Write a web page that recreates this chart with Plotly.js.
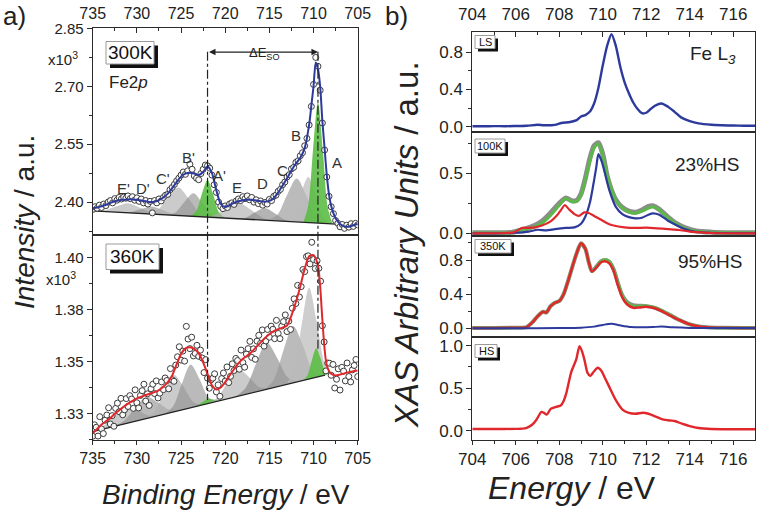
<!DOCTYPE html>
<html>
<head>
<meta charset="utf-8">
<script src="https://cdn.plot.ly/plotly-3.0.1.min.js"></script>
<style>
  html, body { margin: 0; padding: 0; background: #fff; }
  #chart { width: 760px; height: 510px; }
</style>
</head>
<body>
<div id="chart"></div>
<script>
// ---------------- (a) Fe 2p XPS, 300 K ----------------
const xps300E = [735,734.75,734.5,734.25,734,733.75,733.5,733.25,733,732.75,732.5,732.25,732,731.75,731.5,731.25,731,730.75,730.5,730.25,730,729.75,729.5,729.25,729,728.75,728.5,728.25,728,727.75,727.5,727.25,727,726.75,726.5,726.25,726,725.75,725.5,725.25,725,724.75,724.5,724.25,724,723.75,723.5,723.25,723,722.75,722.5,722.25,722,721.75,721.5,721.25,721,720.75,720.5,720.25,720,719.75,719.5,719.25,719,718.75,718.5,718.25,718,717.75,717.5,717.25,717,716.75,716.5,716.25,716,715.75,715.5,715.25,715,714.75,714.5,714.25,714,713.75,713.5,713.25,713,712.75,712.5,712.25,712,711.75,711.5,711.25,711,710.75,710.5,710.25,710,709.75,709.5,709.25,709,708.75,708.5,708.25,708,707.75,707.5,707.25,707,706.75,706.5,706.25,706,705.75,705.5,705.25,705];
const xps300Counts = [2.381,2.388,2.384,2.392,2.386,2.395,2.391,2.400,2.404,2.398,2.409,2.405,2.412,2.408,2.413,2.410,2.416,2.409,2.414,2.405,2.411,2.402,2.408,2.398,2.404,2.395,2.402,2.372,2.404,2.398,2.408,2.403,2.412,2.418,2.420,2.432,2.438,2.446,2.455,2.462,2.470,2.478,2.472,2.481,2.498,2.485,2.468,2.462,2.458,2.474,2.485,2.496,2.494,2.488,2.470,2.445,2.425,2.400,2.389,2.383,2.390,2.386,2.395,2.398,2.394,2.403,2.408,2.404,2.414,2.409,2.416,2.406,2.412,2.400,2.406,2.396,2.403,2.392,2.399,2.395,2.407,2.404,2.415,2.418,2.428,2.433,2.445,2.452,2.465,2.471,2.486,2.490,2.503,2.507,2.520,2.528,2.546,2.565,2.600,2.648,2.705,2.775,2.752,2.690,2.605,2.535,2.465,2.415,2.388,2.370,2.352,2.345,2.336,2.342,2.332,2.340,2.335,2.344,2.337,2.345,2.341];
const xps300FitE = [735,734.5,734,733.5,733,732.5,732,731.5,731,730.5,730,729.5,729,728.5,728,727.5,727,726.5,726,725.5,725,724.5,724,723.5,723,722.5,722,721.5,721,720.5,720,719.5,719,718.5,718,717.5,717,716.5,716,715.5,715,714.5,714,713.5,713,712.5,712,711.5,711,710.5,710.25,710,709.75,709.5,709.25,709,708.75,708.5,708.25,708,707.5,707,706.5,706,705.5,705];
const xps300Fit = [2.384,2.386,2.389,2.393,2.398,2.402,2.405,2.406,2.407,2.407,2.406,2.404,2.402,2.400,2.401,2.405,2.412,2.422,2.436,2.452,2.466,2.474,2.476,2.474,2.470,2.478,2.492,2.475,2.430,2.395,2.387,2.392,2.398,2.402,2.405,2.406,2.406,2.404,2.402,2.401,2.403,2.410,2.425,2.443,2.462,2.482,2.500,2.515,2.540,2.600,2.650,2.700,2.762,2.745,2.700,2.610,2.540,2.470,2.420,2.390,2.358,2.343,2.337,2.336,2.340,2.344];
const xps300BgE = [735, 707.4];
const xps300Bg = [2.377, 2.343];
// fitted components: E', D', C', B', A'(2p1/2 main), E, D, C, B, A(2p3/2 main)
const xps300PeakE = [
  [734.9,733.6,732.3,731.0,729.7,728.4,727.1],
  [731.9,730.7,729.5,728.3,727.1,725.9,724.7],
  [728.9,727.7,726.5,725.3,724.1,722.9,721.7],
  [726.6,725.6,724.6,723.6,722.6,721.6,720.6],
  [724.0,723.3,722.65,722.0,721.35,720.7,720.0],
  [722.7,721.3,719.9,718.5,717.1,715.7,714.3],
  [718.8,717.7,716.6,715.5,714.4,713.3,712.2],
  [715.2,714.1,713.0,711.9,710.8,709.7,708.6],
  [713.15,712.3,711.45,710.6,709.75,708.9,708.05],
  [711.15,710.6,710.05,709.5,708.95,708.4,707.85]
];
const xps300PeakI = [
  [2.377,2.3788,2.389,2.397,2.3858,2.3724,2.3673],
  [2.3732,2.3746,2.3824,2.3888,2.3795,2.3686,2.3643],
  [2.3695,2.3782,2.411,2.438,2.4081,2.3723,2.3606],
  [2.3667,2.3739,2.4008,2.423,2.3983,2.3689,2.3593],
  [2.3635,2.376,2.4204,2.457,2.4188,2.3728,2.3586],
  [2.3619,2.3658,2.3835,2.398,2.380,2.3589,2.3515],
  [2.3565,2.3596,2.3739,2.385,2.3712,2.3548,2.349],
  [2.3526,2.367,2.4186,2.461,2.4159,2.3616,2.3445],
  [2.3502,2.3656,2.420,2.465,2.418,2.3614,2.3439],
  [2.3478,2.3909,2.5375,2.659,2.5362,2.3882,2.3437]
];
const xps300PeakNames = ["E'","D'","C'","B'","A'","E","D","C","B","A"];

// ---------------- (a) Fe 2p XPS, 360 K ----------------
const xps360E = [735,734.8,734.6,734.4,734.2,734,733.8,733.6,733.4,733.2,733,732.8,732.6,732.4,732.2,732,731.8,731.6,731.4,731.2,731,730.8,730.6,730.4,730.2,730,729.8,729.6,729.4,729.2,729,728.8,728.6,728.4,728.2,728,727.8,727.6,727.4,727.2,727,726.8,726.6,726.4,726.2,726,725.8,725.6,725.4,725.2,725,724.8,724.6,724.4,724.2,724,723.8,723.6,723.4,723.2,723,722.8,722.6,722.4,722.2,722,721.8,721.6,721.4,721.2,721,720.8,720.6,720.4,720.2,720,719.8,719.6,719.4,719.2,719,718.8,718.6,718.4,718.2,718,717.8,717.6,717.4,717.2,717,716.8,716.6,716.4,716.2,716,715.8,715.6,715.4,715.2,715,714.8,714.6,714.4,714.2,714,713.8,713.6,713.4,713.2,713,712.8,712.6,712.4,712.2,712,711.8,711.6,711.4,711.2,711,710.8,710.6,710.4,710.2,710,709.8,709.6,709.4,709.2,709,708.8,708.6,708.4,708.2,708,707.8,707.6,707.4,707.2,707,706.8,706.6,706.4,706.2,706,705.8,705.6,705.4,705.2,705];
const xps360Counts = [1.3140,1.3195,1.3183,1.3141,1.3234,1.3175,1.3153,1.3217,1.3242,1.3277,
  1.3199,1.3239,1.3188,1.3274,1.3299,1.3258,1.3322,1.3243,1.3267,1.3321,
  1.3283,1.3335,1.3319,1.3274,1.3363,1.3301,1.3276,1.3336,1.3359,1.3390,
  1.3309,1.3344,1.3288,1.3368,1.3390,1.3345,1.3406,1.3324,1.3347,1.3401,
  1.3364,1.3420,1.3408,1.3368,1.3465,1.3411,1.3404,1.3482,1.3522,1.3570,
  1.3506,1.3549,1.3501,1.3668,1.3607,1.3561,1.3616,1.3526,1.3538,1.3577,
  1.3524,1.3554,1.3516,1.3446,1.3508,1.3419,1.3371,1.3411,1.3419,1.3440,
  1.3353,1.3387,1.3332,1.3417,1.3444,1.3405,1.3473,1.3398,1.3428,1.3488,
  1.3456,1.3514,1.3504,1.3462,1.3554,1.3494,1.3472,1.3535,1.3561,1.3596,
  1.3519,1.3560,1.3510,1.3597,1.3625,1.3586,1.3651,1.3573,1.3598,1.3653,
  1.3616,1.3669,1.3654,1.3609,1.3697,1.3634,1.3609,1.3669,1.3691,1.3723,
  1.3643,1.3693,1.3653,1.3755,1.3800,1.3778,1.3865,1.3809,1.3859,1.3941,
  1.3931,1.4003,1.4007,1.3968,1.4072,1.3989,1.3946,1.3983,1.3947,1.3885,
  1.3671,1.3593,1.3454,1.3492,1.3491,1.3433,1.3485,1.3372,1.3414,1.3464,
  1.3362,1.3471,1.3453,1.3406,1.3492,1.3427,1.3401,1.3459,1.3480,1.3509,1.3427];
const xps360FitE = [735,734.5,734,733.5,733,732.5,732,731.5,731,730.5,730,729.5,729,728.5,728,727.5,727,726.5,726,725.5,725,724.5,724,723.5,723,722.5,722,721.5,721,720.5,720,719.5,719,718.5,718,717.5,717,716.5,716,715.5,715,714.5,714,713.5,713,712.5,712,711.5,711,710.5,710,709.5,709.25,709,708.75,708.5,708,707.5,707,706.5,706,705.5,705];
const xps360Fit = [1.3154,1.3175,1.3196,1.3212,1.3228,1.3248,1.3265,1.3282,1.3297,1.3310,1.3322,1.3330,1.3338,1.3345,1.3352,1.3362,1.3378,1.3400,1.3432,1.3485,1.3535,1.3562,1.3568,1.3560,1.3538,1.3495,1.3440,1.3385,1.3365,1.3375,1.3400,1.3432,1.3462,1.3490,1.3512,1.3528,1.3545,1.3568,1.3590,1.3612,1.3630,1.3645,1.3655,1.3662,1.3672,1.3720,1.3785,1.3860,1.3945,1.4005,1.4010,1.3960,1.3860,1.3700,1.3560,1.3480,1.3440,1.3432,1.3436,1.3442,1.3448,1.3452,1.3456];
const xps360BgE = [735, 708.7];
const xps360Bg = [1.3162, 1.3434];
const xps360PeakE = [
  [735.0,733.9,732.6,731.3,730.0,728.7,727.4],
  [732.8,731.5,730.2,728.9,727.6,726.3,725.0],
  [729.1,728.0,726.9,725.8,724.7,723.6,722.5],
  [726.9,725.9,724.9,723.9,722.9,721.9,720.9],
  [723.8,723.2,722.6,722.0,721.4,720.8,720.2],
  [722.1,720.9,719.7,718.5,717.3,716.1,714.9],
  [718.9,717.7,716.5,715.3,714.1,712.9,711.7],
  [715.6,714.5,713.4,712.3,711.2,710.1,709.0],
  [713.05,712.2,711.35,710.5,709.65,708.8,708.2],
  [711.2,710.7,710.2,709.7,709.2,708.7,708.2]
];
const xps360PeakI = [
  [1.3162,1.3185,1.3242,1.3290,1.3269,1.3240,1.3241],
  [1.3185,1.3213,1.3276,1.3330,1.3302,1.3267,1.3266],
  [1.3223,1.3259,1.3354,1.3434,1.3377,1.3305,1.3292],
  [1.3246,1.3284,1.3394,1.3485,1.3414,1.3327,1.3308],
  [1.3278,1.3287,1.3303,1.3319,1.3316,1.3312,1.3315],
  [1.3296,1.3326,1.3399,1.3462,1.3424,1.3375,1.3370],
  [1.3329,1.3372,1.3490,1.3590,1.3515,1.3422,1.3403],
  [1.3363,1.3412,1.3553,1.3670,1.3575,1.3458,1.3431],
  [1.3394,1.3459,1.3674,1.3854,1.3692,1.3494,1.3440],
  [1.3408,1.3432,1.3504,1.3563,1.3514,1.3453,1.3440]
];

// ---------------- (b) Fe L3 XAS ----------------
const lsE = [704,704.5,705,705.5,706,706.5,707,707.3,707.8,708.1,708.5,708.8,709,709.2,709.4,709.6,709.8,710,710.2,710.4,710.6,710.8,711,711.2,711.4,711.6,711.8,712,712.2,712.4,712.7,713,713.3,713.6,714,714.4,715,715.5,716,716.5,717];
const lsXas = [0.005,0.004,0.006,0.005,0.007,0.01,0.02,0.015,0.02,0.04,0.05,0.07,0.11,0.125,0.16,0.25,0.42,0.66,0.87,0.995,0.87,0.65,0.48,0.36,0.26,0.19,0.145,0.15,0.19,0.225,0.25,0.215,0.16,0.10,0.06,0.035,0.02,0.015,0.012,0.01,0.01];

const k100E = [704,705,705.8,706.3,706.8,707.2,707.6,708,708.3,708.6,708.8,709,709.2,709.4,709.6,709.8,710,710.2,710.4,710.6,710.9,711.2,711.5,711.8,712.1,712.3,712.6,713,713.4,713.8,714.3,715,716,717];
const k100Measured = [0.005,0.005,0.008,0.03,0.06,0.10,0.17,0.25,0.295,0.27,0.275,0.33,0.46,0.62,0.73,0.755,0.66,0.48,0.36,0.28,0.215,0.185,0.175,0.195,0.225,0.23,0.20,0.135,0.08,0.045,0.02,0.01,0.005,0.005];
const k100Fit = [0.003,0.003,0.006,0.03,0.05,0.085,0.15,0.235,0.29,0.265,0.268,0.32,0.45,0.60,0.715,0.745,0.645,0.48,0.37,0.28,0.21,0.18,0.168,0.185,0.21,0.222,0.195,0.13,0.075,0.04,0.018,0.008,0.004,0.003];
const k100LsE = [704,705,706,706.6,707,707.4,707.8,708.3,708.7,709,709.2,709.4,709.55,709.7,709.8,709.95,710.1,710.3,710.6,710.9,711.2,711.5,711.8,712.1,712.3,712.6,713,713.3,713.7,714.2,715,716,717];
const k100Ls = [0,0,0.005,0.015,0.03,0.025,0.035,0.045,0.05,0.08,0.14,0.25,0.39,0.55,0.66,0.60,0.50,0.36,0.22,0.16,0.135,0.125,0.13,0.155,0.167,0.155,0.105,0.075,0.04,0.015,0.005,0.002,0.002];
const k100HsE = [704,705.5,705.9,706.3,706.6,706.9,707.2,707.6,707.9,708.1,708.25,708.45,708.7,708.9,709.15,709.35,709.6,709.9,710.2,710.5,711,711.5,712,712.5,713,713.5,714,714.5,715,717];
const k100Hs = [0,0.003,0.008,0.045,0.045,0.05,0.065,0.10,0.15,0.20,0.235,0.20,0.16,0.145,0.175,0.17,0.145,0.115,0.085,0.065,0.05,0.045,0.047,0.042,0.035,0.028,0.015,0.008,0.003,0];

const k350E = [704,705,706,706.5,706.8,707,707.25,707.4,707.6,707.8,708,708.2,708.4,708.6,708.8,709,709.2,709.35,709.5,709.7,709.9,710.1,710.3,710.5,710.7,710.9,711.1,711.4,711.7,712,712.4,712.8,713.1,713.5,713.9,714.3,714.8,715.5,717];
const k350Measured = [0.005,0.005,0.008,0.015,0.08,0.14,0.195,0.185,0.26,0.30,0.32,0.40,0.55,0.72,0.88,0.995,0.93,0.78,0.67,0.72,0.78,0.80,0.78,0.69,0.525,0.385,0.31,0.27,0.265,0.26,0.24,0.195,0.155,0.10,0.055,0.027,0.012,0.006,0.005];
const k350Fit = [0.005,0.005,0.008,0.015,0.08,0.14,0.195,0.185,0.26,0.30,0.32,0.40,0.55,0.72,0.88,0.995,0.93,0.78,0.665,0.72,0.785,0.805,0.785,0.695,0.53,0.385,0.305,0.26,0.262,0.262,0.243,0.198,0.157,0.10,0.055,0.027,0.012,0.006,0.005];
const k350Hs = [0.005,0.005,0.008,0.015,0.08,0.14,0.195,0.185,0.26,0.30,0.32,0.40,0.55,0.72,0.88,0.995,0.93,0.78,0.665,0.71,0.77,0.785,0.76,0.67,0.50,0.36,0.285,0.24,0.245,0.252,0.235,0.19,0.15,0.10,0.055,0.027,0.012,0.006,0.005];
const k350LsE = [704,706,708,709,709.6,710,710.4,710.8,711.3,711.8,712.3,712.7,713.2,714,717];
const k350Ls = [0,0,0.003,0.008,0.02,0.04,0.055,0.035,0.015,0.012,0.015,0.02,0.012,0.005,0.003];

const hsE = [704,705,706,706.3,706.5,706.75,706.95,707.18,707.3,707.42,707.62,707.85,708.08,708.2,708.32,708.55,708.78,708.93,709.05,709.16,709.3,709.42,709.6,709.77,709.95,710.1,710.31,710.6,710.92,711.2,711.5,711.85,712.1,712.4,712.75,713.1,713.3,713.67,714,714.4,715,716,717];
const hsXas = [0.02,0.02,0.022,0.025,0.035,0.07,0.13,0.222,0.21,0.19,0.26,0.28,0.30,0.35,0.44,0.69,0.84,0.995,0.93,0.83,0.68,0.645,0.70,0.74,0.70,0.62,0.51,0.36,0.245,0.21,0.20,0.212,0.20,0.17,0.134,0.12,0.115,0.08,0.055,0.032,0.02,0.018,0.018];

const xpsTicks = [735,730,725,720,715,710,705];
const xasTicks = [704,706,708,710,712,714,716];

// ---------------- drawing ----------------
const W = 760, H = 510;
const fx = p => p / W;          // pixel column -> paper x
const fy = p => 1 - p / H;      // pixel row -> paper y
const INK = '#2b2b2b';
const SANS = 'Liberation Sans, Arial, sans-serif';

const BLUE = '#2d3a9c', RED = '#e0282c', GREEN = '#5cb848', GREY = '#8c8c8c';
const peakFill = ['rgba(175,175,175,0.65)','rgba(140,140,140,0.6)','rgba(175,175,175,0.65)','rgba(140,140,140,0.6)',
                  'rgba(92,190,70,0.9)','rgba(175,175,175,0.65)','rgba(130,130,130,0.6)','rgba(150,150,150,0.65)',
                  'rgba(185,185,185,0.7)','rgba(92,190,70,0.9)'];

const traces = [];
function line(x, y, xa, ya, color, width) {
  traces.push({x, y, xaxis: xa, yaxis: ya, type: 'scatter', mode: 'lines',
    line: {color, width, shape: 'spline', smoothing: 0.7}, hoverinfo: 'skip'});
}
function peaks(ex, iy, xa, ya) {
  ex.forEach((e, k) => traces.push({x: e, y: iy[k], xaxis: xa, yaxis: ya, type: 'scatter',
    mode: 'lines', fill: 'toself', fillcolor: peakFill[k],
    line: {width: 0, shape: 'spline', smoothing: 0.9}, hoverinfo: 'skip'}));
}
function dots(x, y, xa, ya) {
  traces.push({x, y, xaxis: xa, yaxis: ya, type: 'scatter', mode: 'markers',
    marker: {symbol: 'circle', size: 6, color: 'rgba(255,255,255,0.9)', line: {color: '#3a3a3a', width: 1}},
    hoverinfo: 'skip'});
}
function straight(x, y, xa, ya) {
  traces.push({x, y, xaxis: xa, yaxis: ya, type: 'scatter', mode: 'lines',
    line: {color: '#222', width: 1.3}, hoverinfo: 'skip'});
}

// 300 K
peaks(xps300PeakE, xps300PeakI, 'x', 'y');
straight(xps300BgE, xps300Bg, 'x', 'y');
dots(xps300E, xps300Counts, 'x', 'y');
line(xps300FitE, xps300Fit, 'x', 'y', BLUE, 2);
// 360 K
peaks(xps360PeakE, xps360PeakI, 'x2', 'y2');
straight(xps360BgE, xps360Bg, 'x2', 'y2');
dots(xps360E, xps360Counts, 'x2', 'y2');
line(xps360FitE, xps360Fit, 'x2', 'y2', RED, 2);
// XAS
line(lsE, lsXas, 'x3', 'y3', BLUE, 2.4);
line(k100E, k100Measured, 'x4', 'y4', GREY, 5);
line(k100E, k100Fit, 'x4', 'y4', GREEN, 3);
line(k100LsE, k100Ls, 'x4', 'y4', BLUE, 2.2);
line(k100HsE, k100Hs, 'x4', 'y4', RED, 2.2);
line(k350E, k350Measured, 'x5', 'y5', GREY, 4);
line(k350E, k350Fit, 'x5', 'y5', GREEN, 2.8);
line(k350E, k350Hs, 'x5', 'y5', RED, 2.5);
line(k350LsE, k350Ls, 'x5', 'y5', BLUE, 2);
line(hsE, hsXas, 'x6', 'y6', RED, 2.4);

function axis(extra) {
  return Object.assign({
    showline: true, linecolor: INK, linewidth: 1, mirror: true, zeroline: false, showgrid: false,
    ticks: 'outside', ticklen: 5, tickwidth: 1, tickcolor: INK, fixedrange: true,
    tickfont: {family: SANS, size: 15, color: '#222'}
  }, extra);
}
function minor(extra) {
  return Object.assign({ticks: 'outside', ticklen: 3, tickwidth: 1, tickcolor: INK, showgrid: false}, extra);
}

const XL = [fx(92.7), fx(357.7)];
const XR = [fx(472.3), fx(755)];

const layout = {
  width: W, height: H, autosize: false,
  margin: {l: 0, r: 0, t: 0, b: 0, pad: 0},
  paper_bgcolor: '#fff', plot_bgcolor: 'rgba(0,0,0,0)',
  showlegend: false,
  font: {family: SANS, color: '#222'},

  xaxis: axis({domain: XL, anchor: 'y', side: 'top', range: [735, 705], tickvals: xpsTicks,
    ticks: 'inside', ticklabelstandoff: 2, tickfont: {family: SANS, size: 16, color: '#222'},
    minor: minor({ticks: 'inside', tickvals: [732.5,727.5,722.5,717.5,712.5,707.5]})}),
  yaxis: axis({domain: [fy(235), fy(28.3)], anchor: 'x', range: [2.3147, 2.8505],
    tickvals: [2.40, 2.55, 2.70, 2.85], tickformat: '.2f',
    minor: minor({tickvals: [2.325, 2.475, 2.625, 2.775]})}),

  xaxis2: axis({domain: XL, anchor: 'y2', side: 'bottom', range: [735, 705], tickvals: xpsTicks,
    ticklen: 4, tickfont: {family: SANS, size: 16, color: '#222'},
    minor: minor({tickvals: [732.5,727.5,722.5,717.5,712.5,707.5]})}),
  yaxis2: axis({domain: [fy(440), fy(235)], anchor: 'x2', range: [1.3122, 1.4107],
    tickvals: [1.325, 1.35, 1.375, 1.40], ticktext: ['1.33', '1.35', '1.38', '1.40'],
    minor: minor({tickvals: [1.3125, 1.3375, 1.3625, 1.3875]})}),

  xaxis3: axis({domain: XR, anchor: 'y3', side: 'top', range: [704, 717], tickvals: xasTicks,
    ticks: 'inside', ticklabelstandoff: 4, tickfont: {family: SANS, size: 17, color: '#222'},
    minor: minor({ticks: 'inside', tickvals: [705,707,709,711,713,715]})}),
  yaxis3: axis({domain: [fy(131.7), fy(31.7)], anchor: 'x3', range: [-0.054, 1.022],
    tickvals: [0, 0.4, 0.8], tickformat: '.1f', tickfont: {family: SANS, size: 17, color: '#222'},
    minor: minor({tickvals: [0.2, 0.6]})}),

  xaxis4: axis({domain: XR, anchor: 'y4', range: [704, 717], ticks: '', showticklabels: false}),
  yaxis4: axis({domain: [fy(235.5), fy(131.7)], anchor: 'x4', range: [-0.018, 0.847],
    tickvals: [0, 0.5], tickformat: '.1f', tickfont: {family: SANS, size: 17, color: '#222'},
    minor: minor({tickvals: [0.25, 0.75]})}),

  xaxis5: axis({domain: XR, anchor: 'y5', range: [704, 717], ticks: '', showticklabels: false}),
  yaxis5: axis({domain: [fy(336.7), fy(235.5)], anchor: 'x5', range: [-0.098, 1.087],
    tickvals: [0, 0.4, 0.8], tickformat: '.1f', tickfont: {family: SANS, size: 17, color: '#222'},
    minor: minor({tickvals: [0.2, 0.6, 1.0]})}),

  xaxis6: axis({domain: XR, anchor: 'y6', side: 'bottom', range: [704, 717], tickvals: xasTicks,
    ticklen: 4, tickfont: {family: SANS, size: 17, color: '#222'},
    minor: minor({tickvals: [705,707,709,711,713,715]})}),
  yaxis6: axis({domain: [fy(440), fy(336.7)], anchor: 'x6', range: [-0.109, 1.106],
    tickvals: [0, 0.5, 1.0], tickformat: '.1f', tickfont: {family: SANS, size: 17, color: '#222'},
    minor: minor({tickvals: [0.25, 0.75]})}),

  shapes: [],
  annotations: []
};

// framed sample tags with a drop shadow
function tag(x0, y0, x1, y1, off, text, size) {
  layout.shapes.push({type: 'rect', xref: 'paper', yref: 'paper', layer: 'above',
    x0: fx(x0 + off), x1: fx(x1 + off), y0: fy(y1 + off), y1: fy(y0 + off),
    fillcolor: '#111', line: {width: 0}});
  layout.shapes.push({type: 'rect', xref: 'paper', yref: 'paper', layer: 'above',
    x0: fx(x0), x1: fx(x1), y0: fy(y1), y1: fy(y0),
    fillcolor: '#fff', line: {color: '#9a9a9a', width: 1}});
  layout.annotations.push({xref: 'paper', yref: 'paper', x: fx((x0 + x1) / 2), y: fy((y0 + y1) / 2),
    text, showarrow: false, xanchor: 'center', yanchor: 'middle',
    font: {family: SANS, size, color: '#111'}});
}
tag(106, 41.5, 154, 64, 4, '300K', 19);
tag(106, 244, 159, 269.5, 4, '360K', 19);
tag(475, 35.5, 495, 48.5, 3, 'LS', 11);
tag(475, 139, 505, 153, 3, '100K', 11);
tag(475, 239.5, 511, 253, 3, '350K', 11);
tag(475, 344.5, 497, 357.5, 3, 'HS', 11);

// spin-orbit guides
const guideTop = 2.789;
[[722.0, 400], [709.5, 350]].forEach(([e, bottom]) => layout.shapes.push({
  type: 'line', xref: 'x', yref: 'paper', x0: e, x1: e, y0: fy(51.7), y1: fy(bottom),
  line: {color: '#222', width: 1.2, dash: 'dashdot'}, layer: 'above'}));

const ann = layout.annotations;
ann.push({xref: 'x', yref: 'y', x: 709.5, y: guideTop, ax: 722.0, ay: guideTop, axref: 'x', ayref: 'y',
  text: '', showarrow: true, arrowhead: 2, startarrowhead: 2, arrowside: 'end+start',
  arrowsize: 1, arrowwidth: 1.3, arrowcolor: '#222', standoff: 0, startstandoff: 0});
ann.push({xref: 'paper', yref: 'paper', x: fx(247), y: fy(43), text: 'ΔE<sub>SO</sub>', showarrow: false,
  font: {family: SANS, size: 13, color: '#222'}});

const peakLabelPos = [[731.57,2.436],[729.3,2.436],[727.04,2.462],[724.21,2.516],[720.7,2.470],
                      [718.66,2.439],[715.83,2.449],[713.57,2.483],[711.98,2.573],[707.34,2.503]];
xps300PeakNames.forEach((n, k) => ann.push({xref: 'x', yref: 'y', x: peakLabelPos[k][0], y: peakLabelPos[k][1],
  text: n, showarrow: false, font: {family: SANS, size: 15, color: '#333'}}));

function note(x, y, text, size, opts) {
  ann.push(Object.assign({xref: 'paper', yref: 'paper', x: fx(x), y: fy(y), text, showarrow: false,
    xanchor: 'center', yanchor: 'middle', font: {family: SANS, size, color: '#222'}}, opts || {}));
}
note(63, 58, 'x10<sup>3</sup>', 15);
note(61, 278, 'x10<sup>3</sup>', 15);
note(107, 83, 'Fe2<i>p</i>', 17, {xanchor: 'left'});
note(713, 55, 'Fe L<sub><i>3</i></sub>', 19);
note(707, 165, '23%HS', 19);
note(710, 261, '95%HS', 19);
note(1, 16, 'a)', 26, {xanchor: 'left'});
note(383, 16, 'b)', 26, {xanchor: 'left'});
note(24, 222, '<i>Intensity</i> / a.u.', 28, {textangle: -90});
note(406, 245, '<i>XAS Arbitrary Units</i> / a.u.', 33, {textangle: -90});
note(226, 494, '<i>Binding Energy</i> / eV', 28);
note(572, 488, '<i>Energy</i> / eV', 32);

Plotly.newPlot('chart', traces, layout, {staticPlot: true, displayModeBar: false});
</script>
</body>
</html>
